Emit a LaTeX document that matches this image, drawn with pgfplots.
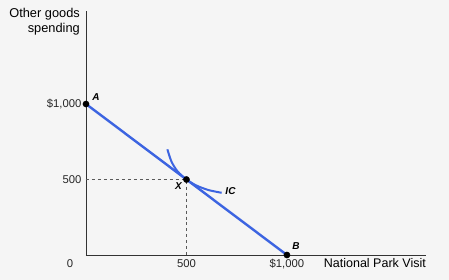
\documentclass[border=0pt]{standalone}
\usepackage{fontspec}
\setmainfont{Liberation Sans}
\usepackage{pgfplots}
\pgfplotsset{compat=1.18}
\usetikzlibrary{backgrounds}
\definecolor{bl}{RGB}{60,100,225}
\definecolor{bgc}{RGB}{245,245,245}
\begin{document}
\begin{tikzpicture}
\begin{axis}[
 scale only axis, width=340bp, height=244bp,
 xmin=0, xmax=1692, ymin=0, ymax=1616,
 axis lines*=left,
 axis line style={black!80, line width=0.8bp},
 xtick={500,1000}, xticklabels={500,{\$1,000}},
 ytick={500,1000}, yticklabels={500,{\$1,000}},
 major tick length=0pt,
 tick label style={font=\fontsize{11.3bp}{13bp}\selectfont, text=black!85},
 xticklabel style={yshift=-1bp},
 yticklabel style={xshift=-1bp},
 /pgf/number format/assume math mode=true,
 clip=false,
]
\addplot[dashed, black!65, line width=0.7bp] coordinates {(0,500)(500,500)(500,0)};
\addplot[bl, line width=2.4bp] coordinates {(0,1000)(1000,0)};
\addplot[bl, line width=2bp, smooth] coordinates {(405,700)(425,620)(455,555)(500,500)(550,460)(610,430)(675,412)};
\addplot[only marks, mark=*, mark size=3.1bp, black] coordinates {(0,1000)(500,500)(1000,0)};
\coordinate (O) at (axis cs:0,0);
\node[font=\bfseries\itshape\fontsize{10bp}{12bp}\selectfont] at ([shift={(10bp,7bp)}]axis cs:0,1000) {A};
\node[font=\bfseries\itshape\fontsize{10bp}{12bp}\selectfont] at ([shift={(9bp,9bp)}]axis cs:1000,0) {B};
\node[font=\bfseries\itshape\fontsize{10bp}{12bp}\selectfont] at ([shift={(-8bp,-7bp)}]axis cs:500,500) {X};
\node[font=\bfseries\itshape\fontsize{10bp}{12bp}\selectfont] at ([shift={(44bp,-12bp)}]axis cs:500,500) {IC};
\node[font=\fontsize{11.3bp}{13bp}\selectfont, text=black!85] at ([shift={(-16bp,-9bp)}]axis cs:0,0) {0};
\node[font=\fontsize{12.8bp}{15bp}\selectfont, align=right, anchor=north east, inner sep=0pt] at ([shift={(-6bp,3bp)}]rel axis cs:0,1) {Other goods\\spending};
\node[font=\fontsize{12.5bp}{14bp}\selectfont, anchor=north east, inner sep=0pt] at ([shift={(0bp,-3bp)}]rel axis cs:1,0) {National Park Visit};
\end{axis}
\begin{scope}[on background layer]
\fill[bgc] ([shift={(-86bp,-25bp)}]O) rectangle ++(449bp,280bp);
\end{scope}
\end{tikzpicture}
\end{document}
